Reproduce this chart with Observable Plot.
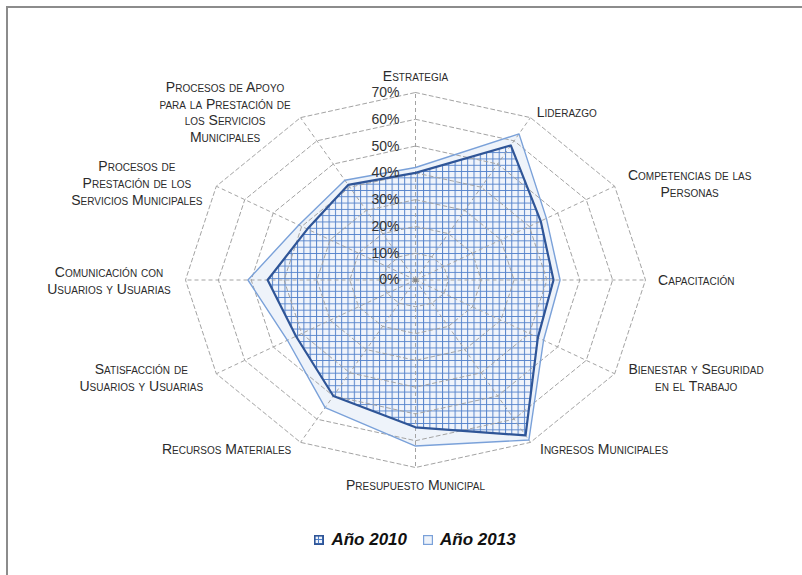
<!DOCTYPE html>
<html>
<head>
<meta charset="utf-8">
<script src="https://cdn.jsdelivr.net/npm/d3@7"></script>
<script src="https://cdn.jsdelivr.net/npm/@observablehq/plot@0.6"></script>
<style>
  html, body { margin: 0; padding: 0; background: #fff; overflow: hidden; }
  body { width: 802px; height: 575px; position: relative; font-family: "Liberation Sans", Arial, sans-serif; }
  #frame { position: absolute; left: 6px; top: 6px; width: 900px; height: 700px;
           border-left: 2px solid #8c8c8c; border-top: 2px solid #8c8c8c; box-sizing: border-box; }
  #chart { position: absolute; left: 0; top: 0; }
  #legend { position: absolute; left: 0; top: 520px; width: 802px; height: 40px;
            display: flex; justify-content: center; align-items: center; padding-left: 28px; box-sizing: border-box;
            font: italic bold 17px "Liberation Sans", Arial, sans-serif; color: #111; }
  .item { display: flex; align-items: center; margin: 0 8px; }
  .item svg { margin-right: 7px; }
</style>
</head>
<body>
<div id="frame"></div>
<div id="chart"></div>
<div id="legend"></div>
<script>
// ---- data ----
const categories = [
  "Estrategia",
  "Liderazgo",
  "Competencias de las\nPersonas",
  "Capacitación",
  "Bienestar y Seguridad\nen el Trabajo",
  "Ingresos Municipales",
  "Presupuesto Municipal",
  "Recursos Materiales",
  "Satisfacción de\nUsuarios y Usuarias",
  "Comunicación con\nUsuarios y Usuarias",
  "Procesos de\nPrestación de los\nServicios Municipales",
  "Procesos de Apoyo\npara la Prestación de\nlos Servicios\nMunicipales"
];
const values2010 = [40, 58, 44, 42, 43, 67, 55, 50, 42, 45, 38, 41];
const values2013 = [42, 63, 46, 44, 45, 69, 62, 55, 45, 51, 41, 43];
const seriesNames = ["Año 2010", "Año 2013"];
const tickValues = [0, 10, 20, 30, 40, 50, 60, 70];
const tickLabels = ["0%", "10%", "20%", "30%", "40%", "50%", "60%", "70%"];

// ---- geometry helpers ----
const n = categories.length;
const vmax = 70;
const cx = 415, cy = 279.5, rx = 230, ry = 187.5;
const ang = i => 2 * Math.PI * i / n;
const toPts = vals => vals.map((v, i) => ({i, v, x: v * Math.sin(ang(i)), y: v * Math.cos(ang(i))}));
const pts2010 = toPts(values2010);
const pts2013 = toPts(values2013);
const rings = tickValues.filter(t => t > 0).flatMap(t =>
  categories.map((c, i) => ({level: t, x: t * Math.sin(ang(i)), y: t * Math.cos(ang(i))})));
const spokes = categories.map((c, i) => ({x2: vmax * Math.sin(ang(i)), y2: vmax * Math.cos(ang(i))}));

// measure label widths
const fontSize = 14, letterSp = 0.6;
const ctx = document.createElement("canvas").getContext("2d");
ctx.font = `small-caps ${fontSize}px "Liberation Sans", Arial, sans-serif`;
const blockWidth = s => d3.max(s.split("\n"), l => ctx.measureText(l).width + letterSp * l.length);

const labelMarks = categories.map((c, i) => {
  const s = Math.sin(ang(i)), co = Math.cos(ang(i));
  const side = Math.abs(s) < 0.01 ? 0 : Math.sign(s);
  const gap = 11 * Math.abs(s) - 2;
  const dx = side === 0 ? 0 : side * (gap + blockWidth(c) / 2);
  const dy = side === 0 ? -co * 17 : -co * 7;
  return Plot.text([c], {
    x: () => vmax * s, y: () => vmax * co, text: d => d,
    textAnchor: "middle", lineAnchor: "middle", lineHeight: 1.2,
    dx, dy, fontSize, fontVariant: "small-caps", fill: "#2b2b2b",
    ariaLabel: "catlabel"
  });
});

const plot = Plot.plot({
  width: 802,
  height: 520,
  x: {domain: [-vmax, vmax], range: [cx - rx, cx + rx], axis: null},
  y: {domain: [-vmax, vmax], range: [cy + ry, cy - ry], axis: null},
  style: {fontFamily: '"Liberation Sans", Arial, sans-serif', background: "transparent"},
  marks: [
    Plot.line(pts2013, {x: "x", y: "y", curve: "linear-closed", fill: "#eef3fa", stroke: "none"}),
    Plot.line(pts2010, {x: "x", y: "y", curve: "linear-closed", fill: "url(#hatch2010)", stroke: "none"}),
    Plot.line(rings, {x: "x", y: "y", z: "level", curve: "linear-closed", stroke: "#a3a3a3",
                      strokeWidth: 1, strokeDasharray: "4,3"}),
    Plot.link(spokes, {x1: () => 0, y1: () => 0, x2: "x2", y2: "y2", stroke: "#a3a3a3",
                       strokeWidth: 1, strokeDasharray: "4,3"}),
    Plot.line(pts2013, {x: "x", y: "y", curve: "linear-closed", stroke: "#7aa1d9", strokeWidth: 1.4}),
    Plot.line(pts2010, {x: "x", y: "y", curve: "linear-closed", stroke: "#2f5597", strokeWidth: 2.2}),
    Plot.dot([0], {x: () => 0, y: () => 0, r: 2.2, fill: "#8a8a8a", symbol: "square"}),
    Plot.text(tickValues, {x: () => 0, y: d => d, text: (d, i) => tickLabels[i], textAnchor: "end",
                           dx: -16, fontSize: 14, fill: "#333"}),
    ...labelMarks
  ]
});

// pattern definition for the 2010 series
const defs = d3.select(plot).insert("defs", ":first-child");
const pat = defs.append("pattern").attr("id", "hatch2010").attr("patternUnits", "userSpaceOnUse")
  .attr("width", 6.3).attr("height", 6.3).attr("x", 0.5).attr("y", 0.5);
pat.append("rect").attr("width", 6.3).attr("height", 6.3).attr("fill", "#f0f4fb");
pat.append("path").attr("d", "M0,0.5H6.3M0.5,0V6.3").attr("stroke", "#5583cb").attr("stroke-width", 1);
d3.select(plot).selectAll('g[aria-label="catlabel"] text').style("letter-spacing", letterSp + "px");

document.getElementById("chart").appendChild(plot);

// legend
const legend = d3.select("#legend");
const sw1 = legend.append("div").attr("class", "item");
const s1 = sw1.append("svg").attr("width", 10).attr("height", 10);
const p1 = s1.append("defs").append("pattern").attr("id", "legHatch").attr("patternUnits", "userSpaceOnUse")
  .attr("width", 4).attr("height", 4);
p1.append("rect").attr("width", 4).attr("height", 4).attr("fill", "#eef3fb");
p1.append("path").attr("d", "M0,0.5H4M0.5,0V4").attr("stroke", "#4f7fc9").attr("stroke-width", 1);
s1.append("rect").attr("x", 0.8).attr("y", 0.8).attr("width", 8.4).attr("height", 8.4)
  .attr("fill", "url(#legHatch)").attr("stroke", "#2f5597").attr("stroke-width", 1.6);
sw1.append("span").text(seriesNames[0]);
const sw2 = legend.append("div").attr("class", "item");
const s2 = sw2.append("svg").attr("width", 10).attr("height", 10);
s2.append("rect").attr("x", 0.6).attr("y", 0.6).attr("width", 8.8).attr("height", 8.8)
  .attr("fill", "#eef3fa").attr("stroke", "#7aa1d9").attr("stroke-width", 1.2);
sw2.append("span").text(seriesNames[1]);
</script>
</body>
</html>
